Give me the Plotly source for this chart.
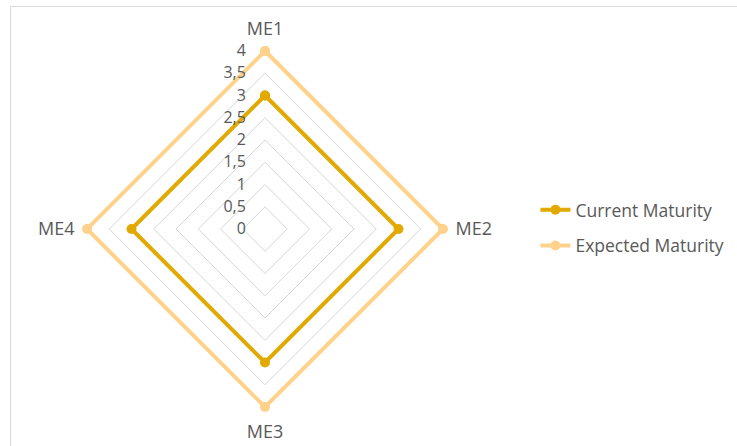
import plotly.graph_objects as go

categories = ["ME1", "ME2", "ME3", "ME4"]
current_maturity = [3, 3, 3, 3]
expected_maturity = [4, 4, 4, 4]
radial_ticks = [0, 0.5, 1, 1.5, 2, 2.5, 3, 3.5, 4]

W, H = 737, 446
cx, cy, R4 = 265, 229, 178
RMAX = 4.1
R = R4 * RMAX / 4

fig = go.Figure()
fig.add_trace(go.Scatterpolar(
    r=current_maturity + current_maturity[:1],
    theta=categories + categories[:1],
    mode="lines+markers",
    name="Current Maturity",
    legendgroup="a",
    cliponaxis=False,
    line=dict(color="#E2A900", width=4),
    marker=dict(size=10, color="#E2A900"),
))
fig.add_trace(go.Scatterpolar(
    r=expected_maturity + expected_maturity[:1],
    theta=categories + categories[:1],
    mode="lines+markers",
    name="Expected Maturity",
    legendgroup="b",
    cliponaxis=False,
    line=dict(color="#FFD28C", width=4),
    marker=dict(size=10, color="#FFD28C"),
))

fig.update_layout(
    width=W, height=H,
    margin=dict(l=0, r=0, t=0, b=0),
    paper_bgcolor="white",
    plot_bgcolor="white",
    separators=", ",
    font=dict(family="Open Sans", color="#595959", size=14),
    polar=dict(
        domain=dict(x=[(cx - R) / W, (cx + R) / W], y=[(H - cy - R) / H, (H - cy + R) / H]),
        bgcolor="white",
        gridshape="linear",
        radialaxis=dict(
            range=[0, RMAX], tickvals=radial_ticks, angle=90, tickangle=90,
            side="counterclockwise",
            showline=False, ticks="outside", ticklen=13, tickcolor="rgba(0,0,0,0)",
            gridcolor="#D6D6D6", gridwidth=1,
            tickfont=dict(size=16, color="#595959"),
        ),
        angularaxis=dict(
            rotation=90, direction="clockwise", showgrid=False,
            showline=False, ticks="outside", ticklen=4, tickcolor="rgba(0,0,0,0)",
            tickfont=dict(size=18, color="#595959"),
        ),
    ),
    legend=dict(x=0.7265, y=0.489, xanchor="left", yanchor="middle",
                font=dict(size=17.5, color="#595959"), tracegroupgap=10,
                itemwidth=30),
    shapes=[
        dict(type="line", xref="paper", yref="paper", x0=10.5 / W, x1=1, y0=1 - 6.5 / H, y1=1 - 6.5 / H,
             line=dict(color="#D9D9D9", width=1)),
        dict(type="line", xref="paper", yref="paper", x0=10.5 / W, x1=10.5 / W, y0=0, y1=1 - 6.5 / H,
             line=dict(color="#D9D9D9", width=1)),
    ],
)

fig.write_html("out.html")
